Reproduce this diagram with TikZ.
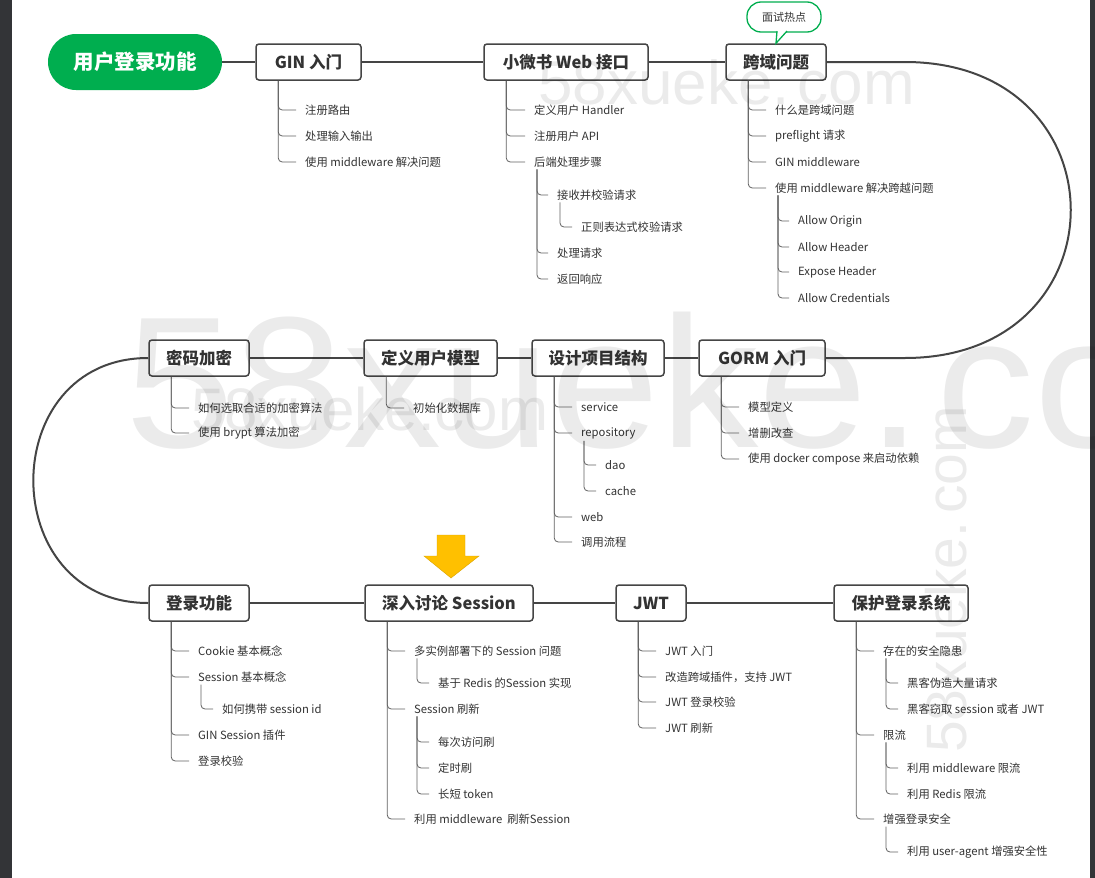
\documentclass[tikz,border=0pt]{standalone}
\usepackage{fontspec}
\setmainfont{Noto Sans CJK SC}
\newfontfamily\markfont{Liberation Sans}
\definecolor{linegray}{HTML}{454545}
\definecolor{txtgray}{HTML}{333333}
\definecolor{hotgreen}{HTML}{00AE4F}
\definecolor{arrowyellow}{HTML}{FFC000}
\definecolor{edgegray}{HTML}{333437}
\tikzset{
	rootnode/.style={fill=hotgreen, text=white, rounded corners=28pt, minimum height=56pt, inner sep=0pt, font=\fontsize{20.5}{22}\selectfont\bfseries},
	topic/.style={draw=linegray, line width=1.5pt, fill=white, rounded corners=3pt, minimum height=36pt, inner sep=0pt, text=txtgray, font=\fontsize{16.5}{18}\selectfont\bfseries},
	item/.style={anchor=west, inner xsep=0pt, inner ysep=2pt, text=txtgray, font=\fontsize{11.3}{13}\selectfont},
	hot/.style={draw=hotgreen, line width=1.3pt, fill=white, rounded corners=14pt, minimum width=74pt, minimum height=30pt, inner sep=0pt, text=txtgray, font=\fontsize{11}{13}\selectfont},
	flow/.style={draw=linegray, line width=2pt},
	twig/.style={draw=linegray!85, line width=0.8pt, rounded corners=4pt},
	wmark/.style={text=black, text opacity=0.08, inner sep=0pt, anchor=base west}
}
\begin{document}
\begin{tikzpicture}[x=1pt,y=-1pt]
	\useasboundingbox (0,0) rectangle (1095,878);
	\fill[white] (0,0) rectangle (1095,878);
	\fill[edgegray] (0,0) rectangle (12,878);
	\fill[edgegray] (1090,0) rectangle (1095,878);
	
	% topics
	\node[rootnode, minimum width=174pt] (root) at (135,62) {用户登录功能};
	\node[topic, minimum width=105pt] (gin) at (308.5,62) {GIN 入门};
	\node[topic, minimum width=164pt] (web) at (566,62) {小微书 Web 接口};
	\node[topic, minimum width=100pt] (cors) at (776,62) {跨域问题};
	\node[topic, minimum width=100pt] (pwd) at (199,358) {密码加密};
	\node[topic, minimum width=133pt] (model) at (430.5,358) {定义用户模型};
	\node[topic, minimum width=132pt] (layout) at (598,358) {设计项目结构};
	\node[topic, minimum width=126pt] (gorm) at (762,358) {GORM 入门};
	\node[topic, minimum width=100pt] (login) at (199,603) {登录功能};
	\node[topic, minimum width=168pt] (sess) at (449,603) {深入讨论 Session};
	\node[topic, minimum width=70pt] (jwt) at (651,603) {JWT};
	\node[topic, minimum width=134pt] (guard) at (901,603) {保护登录系统};
	
	% main line
	\draw[flow] (root) -- (gin) -- (web) -- (cors);
	\draw[flow] (cors.east) -- (905,62) .. controls (1126,62) and (1126,358) .. (905,358) -- (gorm.east);
	\draw[flow] (gorm) -- (layout) -- (model) -- (pwd);
	\draw[flow] (pwd.west) .. controls (-5,358) and (-5,603) .. (login.west);
	\draw[flow] (login) -- (sess) -- (jwt) -- (guard);
	
	% callout
	\node[hot] (hotspot) at (784,17) {面试热点};
	\draw[hotgreen, line width=1.3pt, fill=white] ([xshift=-7pt,yshift=1.6pt]hotspot.south) -- (cors.north) -- ([xshift=3pt,yshift=1.6pt]hotspot.south);
	
	% arrow
	\filldraw[fill=arrowyellow, draw=arrowyellow!85!black, line width=0.4pt] (437,535) -- (465,535) -- (465,556) -- (479,556) -- (451,578) -- (424,556) -- (437,556) -- cycle;
	
	% GIN
	\node[item] (gin1) at (305,110) {注册路由};
	\node[item] (gin2) at (305,136) {处理输入输出};
	\node[item] (gin3) at (305,162) {使用 middleware 解决问题};
	\foreach \c in {gin1,gin2,gin3}
	\draw[twig] ([xshift=23pt]gin.south west) |- ([xshift=-9pt]\c.west);
	
	% web
	\node[item] (web1) at (534,110) {定义用户 Handler};
	\node[item] (web2) at (534,136) {注册用户 API};
	\node[item] (web3) at (534,162) {后端处理步骤};
	\node[item] (web31) at (557,195) {接收并校验请求};
	\node[item] (web311) at (581,227) {正则表达式校验请求};
	\node[item] (web32) at (557,253) {处理请求};
	\node[item] (web33) at (557,279) {返回响应};
	\foreach \c in {web1,web2,web3}
	\draw[twig] ([xshift=23pt]web.south west) |- ([xshift=-9pt]\c.west);
	\foreach \c in {web31,web32,web33}
	\draw[twig] ([xshift=3pt]web3.south west) |- ([xshift=-9pt]\c.west);
	\draw[twig] ([xshift=3pt]web31.south west) |- ([xshift=-9pt]web311.west);
	
	% cors
	\node[item] (cors1) at (775,110) {什么是跨域问题};
	\node[item] (cors2) at (775,136) {preflight 请求};
	\node[item] (cors3) at (775,162) {GIN middleware};
	\node[item] (cors4) at (775,188) {使用 middleware 解决跨越问题};
	\node[item] (cors41) at (798,221) {Allow Origin};
	\node[item] (cors42) at (798,247) {Allow Header};
	\node[item] (cors43) at (798,272) {Expose Header};
	\node[item] (cors44) at (798,298) {Allow Credentials};
	\foreach \c in {cors1,cors2,cors3,cors4}
	\draw[twig] ([xshift=23pt]cors.south west) |- ([xshift=-9pt]\c.west);
	\foreach \c in {cors41,cors42,cors43,cors44}
	\draw[twig] ([xshift=3pt]cors4.south west) |- ([xshift=-9pt]\c.west);
	
	% pwd, model
	\node[item] (pwd1) at (198,408) {如何选取合适的加密算法};
	\node[item] (pwd2) at (198,433) {使用 brypt 算法加密};
	\foreach \c in {pwd1,pwd2}
	\draw[twig] ([xshift=23pt]pwd.south west) |- ([xshift=-9pt]\c.west);
	\node[item] (model1) at (413,408) {初始化数据库};
	\draw[twig] ([xshift=23pt]model.south west) |- ([xshift=-9pt]model1.west);
	
	% layout
	\node[item] (lay1) at (581,407) {service};
	\node[item] (lay2) at (581,433) {repository};
	\node[item] (lay21) at (605,465) {dao};
	\node[item] (lay22) at (605,491) {cache};
	\node[item] (lay3) at (581,517) {web};
	\node[item] (lay4) at (581,542) {调用流程};
	\foreach \c in {lay1,lay2,lay3,lay4}
	\draw[twig] ([xshift=23pt]layout.south west) |- ([xshift=-9pt]\c.west);
	\foreach \c in {lay21,lay22}
	\draw[twig] ([xshift=3pt]lay2.south west) |- ([xshift=-9pt]\c.west);
	
	% gorm
	\node[item] (gorm1) at (748,407) {模型定义};
	\node[item] (gorm2) at (748,433) {增删改查};
	\node[item] (gorm3) at (748,459) {使用 docker compose 来启动依赖};
	\foreach \c in {gorm1,gorm2,gorm3}
	\draw[twig] ([xshift=23pt]gorm.south west) |- ([xshift=-9pt]\c.west);
	
	% login
	\node[item] (login1) at (198,651) {Cookie 基本概念};
	\node[item] (login2) at (198,677) {Session 基本概念};
	\node[item] (login21) at (222,709) {如何携带 session id};
	\node[item] (login3) at (198,735) {GIN Session 插件};
	\node[item] (login4) at (198,761) {登录校验};
	\foreach \c in {login1,login2,login3,login4}
	\draw[twig] ([xshift=23pt]login.south west) |- ([xshift=-9pt]\c.west);
	\draw[twig] ([xshift=3pt]login2.south west) |- ([xshift=-9pt]login21.west);
	
	% sess
	\node[item] (sess1) at (414,651) {多实例部署下的 Session 问题};
	\node[item] (sess11) at (438,683) {基于 Redis 的Session 实现};
	\node[item] (sess2) at (414,709) {Session 刷新};
	\node[item] (sess21) at (438,742) {每次访问刷};
	\node[item] (sess22) at (438,768) {定时刷};
	\node[item] (sess23) at (438,794) {长短 token};
	\node[item] (sess3) at (414,819) {利用 middleware\ \ 刷新Session};
	\foreach \c in {sess1,sess2,sess3}
	\draw[twig] ([xshift=23pt]sess.south west) |- ([xshift=-9pt]\c.west);
	\draw[twig] ([xshift=3pt]sess1.south west) |- ([xshift=-9pt]sess11.west);
	\foreach \c in {sess21,sess22,sess23}
	\draw[twig] ([xshift=3pt]sess2.south west) |- ([xshift=-9pt]\c.west);
	
	% jwt
	\node[item] (jwt1) at (665,651) {JWT 入门};
	\node[item] (jwt2) at (665,677) {改造跨域插件，支持 JWT};
	\node[item] (jwt3) at (665,702) {JWT 登录校验};
	\node[item] (jwt4) at (665,728) {JWT 刷新};
	\foreach \c in {jwt1,jwt2,jwt3,jwt4}
	\draw[twig] ([xshift=23pt]jwt.south west) |- ([xshift=-9pt]\c.west);
	
	% guard
	\node[item] (guard1) at (883,651) {存在的安全隐患};
	\node[item] (guard11) at (907,683) {黑客伪造大量请求};
	\node[item] (guard12) at (907,709) {黑客窃取 session 或者 JWT};
	\node[item] (guard2) at (883,735) {限流};
	\node[item] (guard21) at (907,768) {利用 middleware 限流};
	\node[item] (guard22) at (907,794) {利用 Redis 限流};
	\node[item] (guard3) at (883,819) {增强登录安全};
	\node[item] (guard31) at (907,852) {利用 user-agent 增强安全性};
	\foreach \c in {guard1,guard2,guard3}
	\draw[twig] ([xshift=23pt]guard.south west) |- ([xshift=-9pt]\c.west);
	\foreach \c in {guard11,guard12}
	\draw[twig] ([xshift=3pt]guard1.south west) |- ([xshift=-9pt]\c.west);
	\foreach \c in {guard21,guard22}
	\draw[twig] ([xshift=3pt]guard2.south west) |- ([xshift=-9pt]\c.west);
	\draw[twig] ([xshift=3pt]guard3.south west) |- ([xshift=-9pt]guard31.west);
	
	% watermarks
	\node[wmark, font=\markfont\fontsize{187}{187}\selectfont, xscale=1.05] (wm1) at (125,447) {58xueke.\hspace{14pt}com};
	\node[wmark, font=\markfont\fontsize{62}{62}\selectfont] (wm2) at (538,104) {58xueke.\hspace{8pt}com};
	\node[wmark, font=\markfont\fontsize{60}{60}\selectfont] (wm3) at (191,430) {58xueke.com};
	\node[wmark, font=\markfont\fontsize{57}{57}\selectfont, rotate=90] (wm4) at (966,753) {58xueke.\hspace{8pt}com};
\end{tikzpicture}
\end{document}
